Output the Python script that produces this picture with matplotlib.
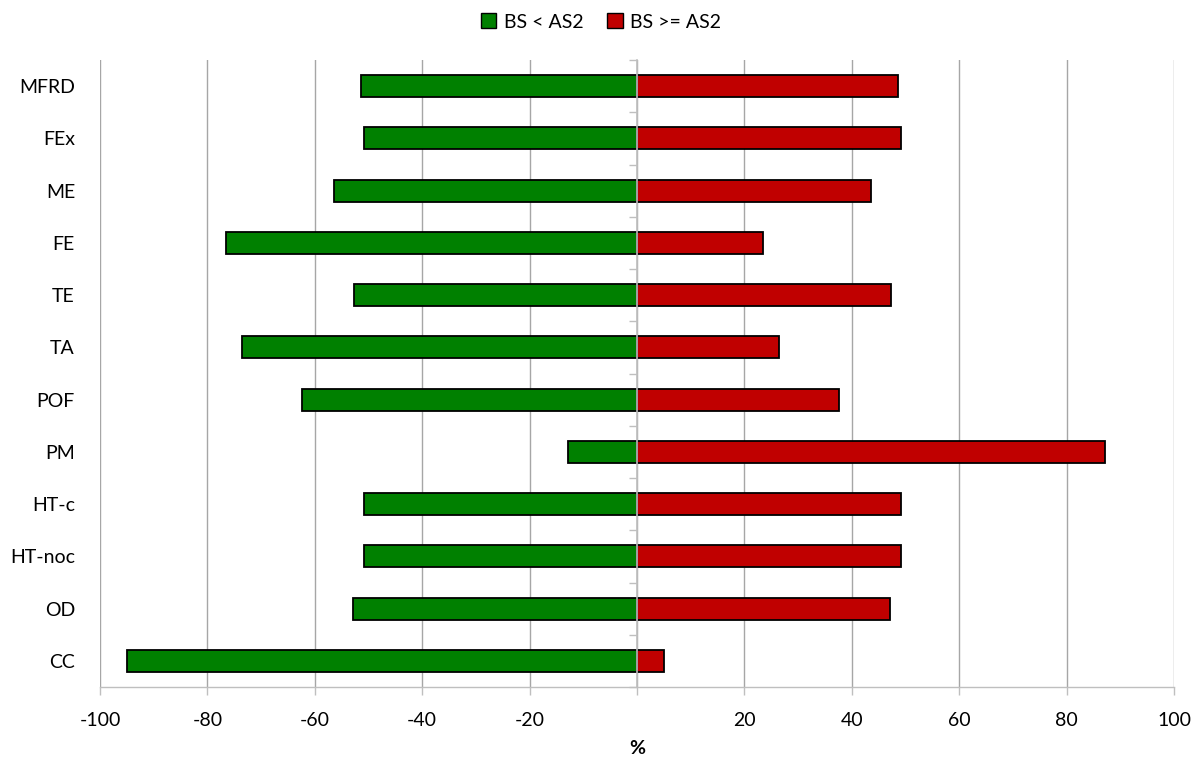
import matplotlib
matplotlib.use("Agg")
import matplotlib.pyplot as plt
from matplotlib.patches import Patch
import numpy as np

categories = ["MFRD", "FEx", "ME", "FE", "TE", "TA", "POF", "PM",
              "HT-c", "HT-noc", "OD", "CC"]
below = [-51.4, -50.9, -56.4, -76.5, -52.7, -73.6, -62.4, -12.9,
         -50.9, -50.9, -52.8, -94.9]
above = [48.6, 49.1, 43.6, 23.5, 47.3, 26.4, 37.6, 87.1,
         49.1, 49.1, 47.2, 5.1]
series_names = ["BS < AS2", "BS >= AS2"]
x_ticks = [-100, -80, -60, -40, -20, 20, 40, 60, 80, 100]

GREEN = "#008000"
RED = "#C00000"
GRID = "#a6a6a6"
AXIS = "#bfbfbf"

plt.rcParams["font.family"] = ["Lato", "DejaVu Sans"]

fig = plt.figure(figsize=(12.02, 7.60), dpi=100)
ax = fig.add_axes([100 / 1202, 1 - 687 / 760, 1074 / 1202, 627 / 760])

y = np.arange(len(categories))
h = 0.42
ax.barh(y, below, height=h, color=GREEN, edgecolor="black", linewidth=1.3, zorder=3)
ax.barh(y, above, height=h, color=RED, edgecolor="black", linewidth=1.3, zorder=3)

ax.set_xlim(-100, 100)
ax.set_ylim(len(categories) - 0.5, -0.5)

ax.set_xticks(x_ticks + [0])
ax.set_xticklabels([str(v) for v in x_ticks] + [""])
ax.tick_params(axis="x", direction="out", length=6, width=1, color=AXIS,
               labelsize=14, pad=12, labelcolor="black")
ax.xaxis.grid(True, color=GRID, linewidth=1, zorder=0)

ax.set_yticks(y)
ax.set_yticklabels(categories)
ax.tick_params(axis="y", length=0, labelsize=14, pad=18)

for s in ("top", "right", "left"):
    ax.spines[s].set_visible(False)
ax.spines["bottom"].set_color(AXIS)
ax.spines["bottom"].set_linewidth(1)

# vertical category axis crossing at zero with boundary ticks
ax2 = ax.twinx()
ax2.set_ylim(ax.get_ylim())
for s in ("top", "right", "bottom"):
    ax2.spines[s].set_visible(False)
ax2.spines["left"].set_visible(True)
ax2.spines["left"].set_position(("data", 0))
ax2.spines["left"].set_color(AXIS)
ax2.spines["left"].set_linewidth(1.2)
ax2.spines["left"].set_zorder(4)
ax2.yaxis.set_ticks_position("left")
ax2.set_yticks(np.arange(len(categories) + 1) - 0.5)
ax2.set_yticklabels([])
ax2.tick_params(axis="y", direction="out", length=6, width=1, color=AXIS)
ax2.set_zorder(ax.get_zorder() + 1)
ax2.patch.set_visible(False)

ax.set_xlabel("%", fontsize=14, fontweight="bold", labelpad=8)

handles = [Patch(facecolor=GREEN, edgecolor="black", linewidth=1),
           Patch(facecolor=RED, edgecolor="black", linewidth=1)]
fig.legend(handles, series_names, loc="center", bbox_to_anchor=(0.5, 1 - 22 / 760),
           ncol=2, frameon=False, fontsize=14, handlelength=0.8, handleheight=0.8,
           handletextpad=0.4, columnspacing=1.2)

fig.savefig("out.png", dpi=100)
